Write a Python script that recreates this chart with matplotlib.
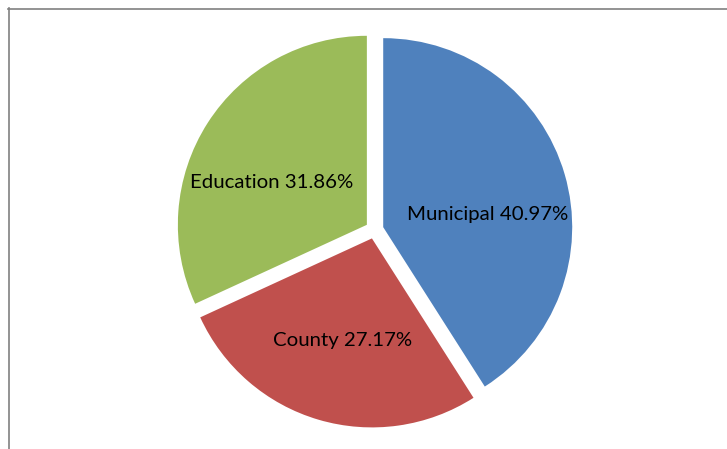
import matplotlib
matplotlib.use("Agg")
from matplotlib import pyplot as plt
from matplotlib.lines import Line2D

categories = ['Municipal', 'County', 'Education']
shares = [40.97, 27.17, 31.86]
colors = ['#4F81BD', '#C0504D', '#9BBB59']
explode = [0.048, 0.048, 0.048]
# label centres in pie units (radius = 1)
label_pos = [(0.60, 0.078), (-0.167, -0.584), (-0.542, 0.252)]

fig = plt.figure(figsize=(7.27, 4.49), dpi=100)
W, H = 727, 449
cx, cy, R = 374.5, 229.7, 189
ax = fig.add_axes([(cx - R) / W, (H - cy - R) / H, 2 * R / W, 2 * R / H])

ax.pie(shares, colors=colors, explode=explode, startangle=90,
       counterclock=False, radius=1, wedgeprops=dict(linewidth=0))
ax.set_xlim(-1, 1)
ax.set_ylim(-1, 1)
ax.set_aspect('auto')
ax.axis('off')

for name, val, (x, y) in zip(categories, shares, label_pos):
    ax.text(x, y, f'{name} {val:.2f}%', ha='center', va='center',
            fontsize=14.7, family=['Lato', 'DejaVu Sans'], color='black')

# outer chart frame (only top and left visible)
fig.add_artist(Line2D([8 / W, 1], [1 - 8.5 / H, 1 - 8.5 / H], color='#808080', lw=1.2))
fig.add_artist(Line2D([8.5 / W, 8.5 / W], [0, 1 - 8 / H], color='#808080', lw=1.2))

fig.savefig('out.png', dpi=100)
